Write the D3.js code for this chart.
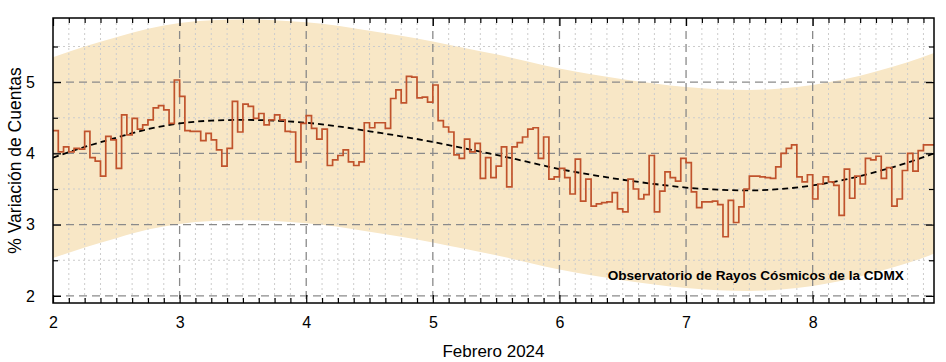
<!DOCTYPE html>
<html><head><meta charset="utf-8">
<script src="https://cdn.jsdelivr.net/npm/d3@7"></script>
<style>
body{margin:0;background:#fff}
svg{display:block}
text{font-family:"Liberation Sans",Arial,sans-serif;fill:#000}
</style>
</head><body>
<svg id="chart" width="946" height="362"></svg>
<script>
// ---- data ----
const startDay = 2;            // 2 Feb 2024, 00:00
const hoursPerDay = 24;
const hourlyValues = [
  4.32,4.02,4.09,4.02,4.07,4.06,4.31,3.94,3.89,3.68,4.24,4.19,3.79,4.54,4.26,4.49,4.34,4.40,4.47,4.64,4.67,4.61,4.42,5.03,
  4.80,4.32,4.31,4.31,4.18,4.28,4.19,4.05,3.82,4.07,4.73,4.30,4.69,4.66,4.49,4.56,4.40,4.47,4.54,4.47,4.31,4.30,3.88,4.42,
  4.53,4.35,4.20,4.34,3.83,3.91,3.97,4.05,3.88,3.83,3.88,4.43,4.36,4.43,4.43,4.35,4.77,4.89,4.71,5.08,5.07,4.78,4.79,4.72,
  4.96,4.46,4.37,4.30,3.98,3.93,4.20,4.02,4.14,3.65,3.94,3.66,3.82,4.09,3.53,4.09,4.15,4.23,4.34,4.36,3.93,4.23,3.64,3.67,
  3.79,3.66,3.43,3.92,3.33,3.64,3.26,3.29,3.31,3.32,3.45,3.22,3.18,3.64,3.50,3.36,3.42,3.97,3.18,3.47,3.74,3.66,3.61,3.93,
  3.87,3.46,3.24,3.32,3.32,3.33,3.28,2.83,3.34,3.03,3.25,3.50,3.68,3.68,3.67,3.66,3.65,3.81,4.00,4.07,4.12,3.67,3.60,3.70,
  3.36,3.57,3.67,3.60,3.55,3.13,3.78,3.37,3.68,3.57,3.93,3.91,3.96,3.65,3.80,3.26,3.36,3.76,4.00,3.75,4.04,4.12,4.12,4.12
];
const fitDays   = [2.0,2.25,2.5,2.75,3.0,3.25,3.5,3.75,4.0,4.25,4.5,4.75,5.0,5.25,5.5,5.75,6.0,6.25,6.5,6.75,7.0,7.25,7.5,7.75,8.0,8.25,8.5,8.75,8.9583];
const fitValues = [3.94,4.09,4.22,4.34,4.42,4.46,4.47,4.46,4.43,4.38,4.31,4.24,4.16,4.07,3.98,3.88,3.78,3.70,3.63,3.57,3.52,3.49,3.48,3.50,3.55,3.63,3.74,3.87,4.00];
const bandUpper = [5.35,5.50,5.63,5.75,5.83,5.87,5.88,5.87,5.84,5.79,5.72,5.65,5.57,5.48,5.39,5.29,5.19,5.11,5.04,4.98,4.93,4.90,4.89,4.91,4.96,5.04,5.15,5.28,5.41];
const bandLower = [2.53,2.68,2.81,2.93,3.01,3.05,3.06,3.05,3.02,2.97,2.90,2.83,2.75,2.66,2.57,2.47,2.37,2.29,2.22,2.16,2.11,2.08,2.07,2.09,2.14,2.22,2.33,2.46,2.59];
const xTickValues = [2,3,4,5,6,7,8];
const yTickValues = [2,3,4,5];
const xMinorStepDays = 1/8;    // 3 hours
const xLabel = "Febrero 2024";
const yLabel = "% Variación de Cuentas";
const note = "Observatorio de Rayos Cósmicos de la CDMX";

// ---- layout ----
const W = 946, H = 362;
const m = {left:53, right:12, top:18, bottom:59};
const iw = W - m.left - m.right, ih = H - m.top - m.bottom;
const lastDay = startDay + (hourlyValues.length - 1) / hoursPerDay;

const x = d3.scaleLinear().domain([startDay, lastDay]).range([0, iw]);
const y = d3.scaleLinear().domain([1.9, 5.9]).range([ih, 0]);

const svg = d3.select("#chart");
const g = svg.append("g").attr("transform", `translate(${m.left},${m.top})`);

g.append("defs").append("clipPath").attr("id","clip")
  .append("rect").attr("width", iw).attr("height", ih);
const plot = g.append("g").attr("clip-path","url(#clip)");

// band
const bandData = fitDays.map((d,i)=>({d, lo:bandLower[i], hi:bandUpper[i]}));
plot.append("path").datum(bandData)
  .attr("fill","#f8e7c6")
  .attr("d", d3.area().curve(d3.curveMonotoneX)
    .x(p=>x(p.d)).y0(p=>y(p.lo)).y1(p=>y(p.hi)));

// minor grid
const xMinor = d3.range(startDay, lastDay + 1e-6, xMinorStepDays).filter(v => Math.abs(v - Math.round(v)) > 1e-6);
const yMinor = d3.range(2.5, 5.9, 1);
const grid = plot.append("g");
grid.selectAll("line.xm").data(xMinor).join("line")
  .attr("x1", d=>x(d)).attr("x2", d=>x(d)).attr("y1",0).attr("y2",ih)
  .attr("stroke","#cccccc").attr("stroke-width",1).attr("stroke-dasharray","2,3");
grid.selectAll("line.ym").data(yMinor).join("line")
  .attr("x1",0).attr("x2",iw).attr("y1",d=>y(d)).attr("y2",d=>y(d))
  .attr("stroke","#cccccc").attr("stroke-width",1).attr("stroke-dasharray","2,3");
// major grid
grid.selectAll("line.xM").data(xTickValues.filter(v=>v>startDay)).join("line")
  .attr("x1", d=>x(d)).attr("x2", d=>x(d)).attr("y1",0).attr("y2",ih)
  .attr("stroke","#8a8a8a").attr("stroke-width",1.3).attr("stroke-dasharray","8,5");
grid.selectAll("line.yM").data(yTickValues).join("line")
  .attr("x1",0).attr("x2",iw).attr("y1",d=>y(d)).attr("y2",d=>y(d))
  .attr("stroke","#8a8a8a").attr("stroke-width",1.3).attr("stroke-dasharray","8,5");

// fit line
plot.append("path").datum(fitDays.map((d,i)=>[d, fitValues[i]]))
  .attr("fill","none").attr("stroke","#000").attr("stroke-width",1.8)
  .attr("stroke-dasharray","6,4")
  .attr("d", d3.line().curve(d3.curveMonotoneX).x(p=>x(p[0])).y(p=>y(p[1])));

// hourly step line
plot.append("path").datum(hourlyValues)
  .attr("fill","none").attr("stroke","#c0532c").attr("stroke-width",1.7)
  .attr("stroke-linejoin","miter")
  .attr("d", d3.line().curve(d3.curveStepAfter)
    .x((v,i)=>x(startDay + i/hoursPerDay)).y(v=>y(v)));

// note
g.append("text").attr("x", x(8.72)).attr("y", 262)
  .attr("text-anchor","end").attr("font-size",13.6).attr("font-weight","bold")
  .text(note);

// axes (ticks inward on all four sides)
const tickStyle = sel => {
  sel.select(".domain").remove();
  sel.selectAll("line").attr("stroke","#000").attr("stroke-width",1.2);
};
g.append("g").attr("transform",`translate(0,${ih})`)
  .call(d3.axisBottom(x).tickValues(xMinor).tickSize(-5).tickFormat(""))
  .call(tickStyle);
g.append("g").attr("transform",`translate(0,${ih})`)
  .call(d3.axisBottom(x).tickValues(xTickValues).tickSize(-8).tickPadding(14).tickFormat(d3.format("d")))
  .call(tickStyle)
  .call(s=>s.selectAll("text").attr("font-size",16).attr("dy","0.71em"));
g.append("g")
  .call(d3.axisTop(x).tickValues(xMinor).tickSize(-5).tickFormat(""))
  .call(tickStyle);
g.append("g")
  .call(d3.axisTop(x).tickValues(xTickValues).tickSize(-8).tickFormat(""))
  .call(tickStyle);
g.append("g")
  .call(d3.axisLeft(y).tickValues(yMinor).tickSize(-5).tickFormat(""))
  .call(tickStyle);
g.append("g")
  .call(d3.axisLeft(y).tickValues(yTickValues).tickSize(-8).tickPadding(18).tickFormat(d3.format("d")))
  .call(tickStyle)
  .call(s=>s.selectAll("text").attr("font-size",16));
g.append("g").attr("transform",`translate(${iw},0)`)
  .call(d3.axisRight(y).tickValues(yMinor).tickSize(-5).tickFormat(""))
  .call(tickStyle);
g.append("g").attr("transform",`translate(${iw},0)`)
  .call(d3.axisRight(y).tickValues(yTickValues).tickSize(-8).tickFormat(""))
  .call(tickStyle);

// frame
g.append("rect").attr("width",iw).attr("height",ih)
  .attr("fill","none").attr("stroke","#000").attr("stroke-width",1.5);

// axis titles
svg.append("text").attr("x", m.left + iw/2).attr("y", 357)
  .attr("text-anchor","middle").attr("font-size",17).text(xLabel);
svg.append("text").attr("transform",`translate(21,${m.top + ih/2}) rotate(-90)`)
  .attr("text-anchor","middle").attr("font-size",17.5).text(yLabel);
</script>
</body></html>
